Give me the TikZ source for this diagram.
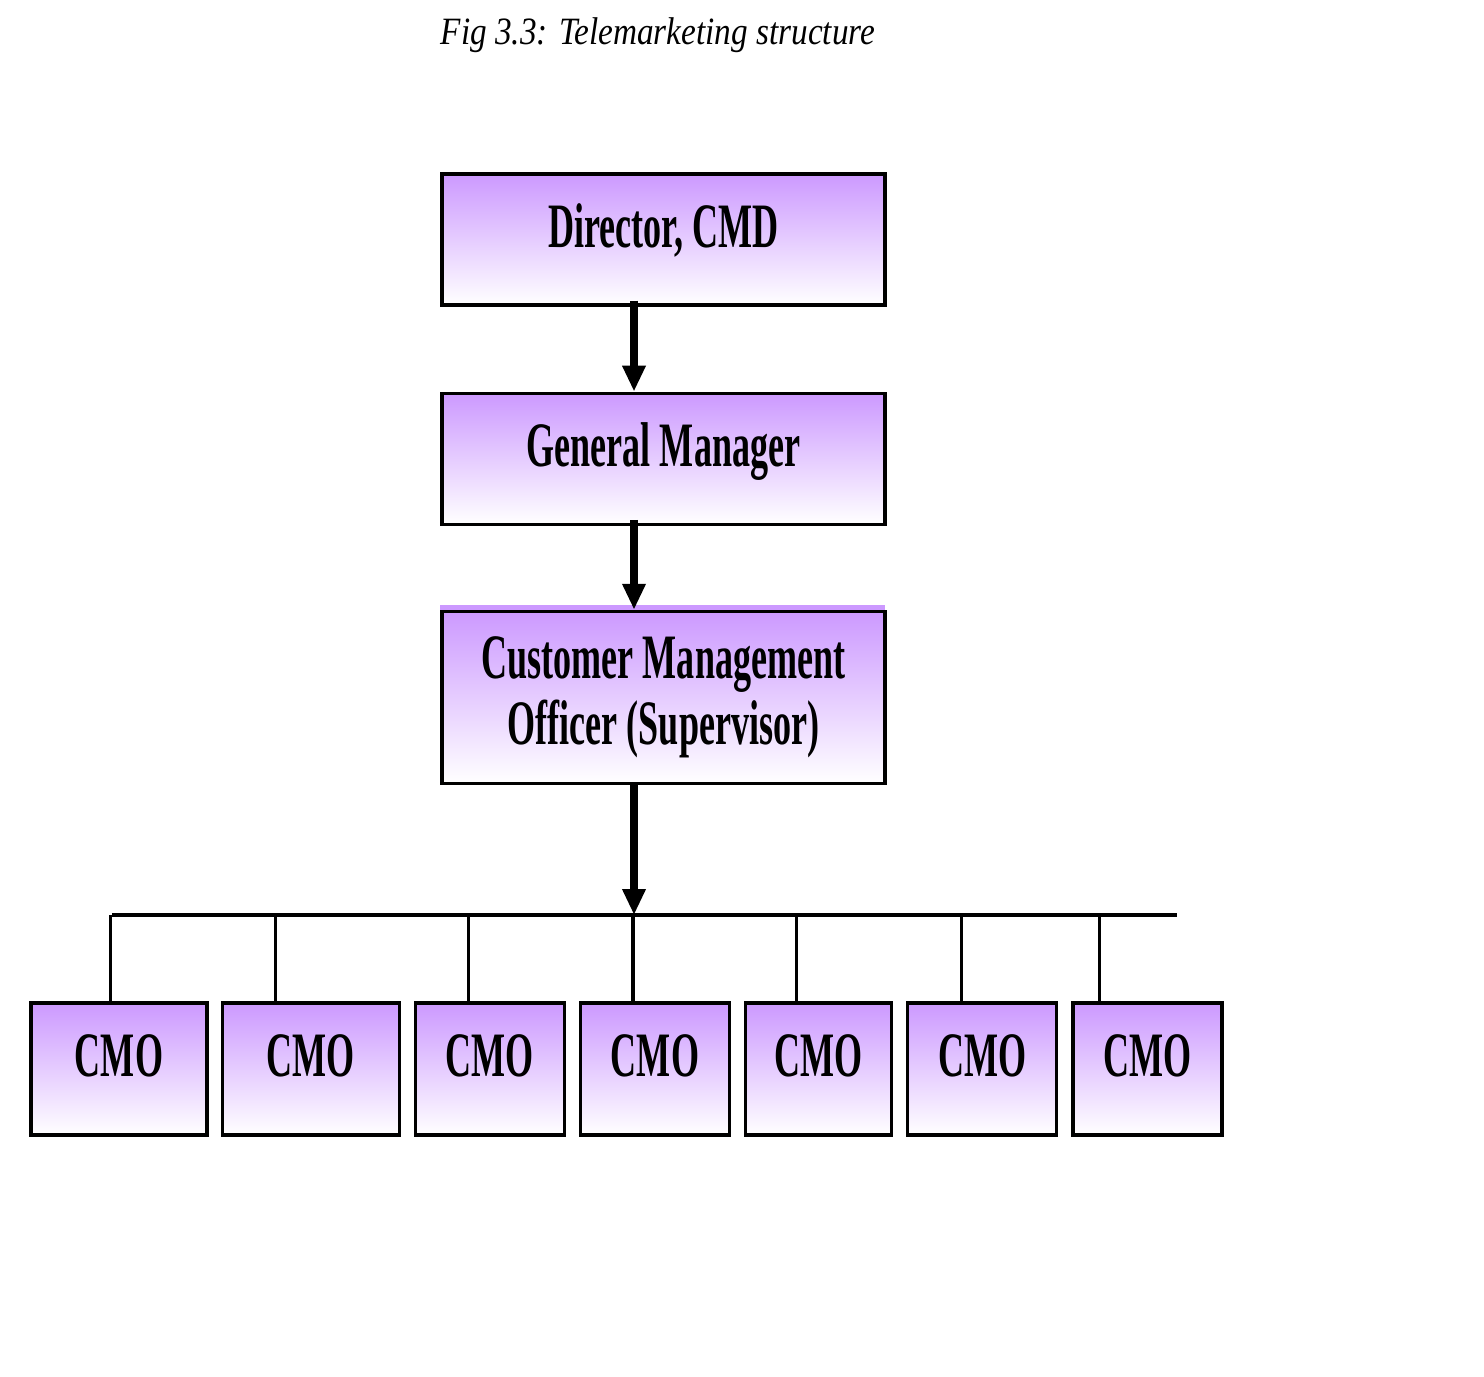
\documentclass[tikz,border=0pt]{standalone}
\usepackage{fontspec}
\setmainfont{Liberation Serif}
\newfontfamily\boxfont{Liberation Serif}[FakeStretch=0.57]
\newfontfamily\capfont{Liberation Serif}[FakeStretch=0.86]
\usetikzlibrary{arrows.meta,positioning}
\definecolor{lav}{RGB}{204,153,255}
\tikzset{>={Triangle[width=0.22cm,length=0.26cm]},
  post/.style={draw,line width=0.9pt,top color=lav,bottom color=white,
    font=\boxfont\bfseries\fontsize{18}{19}\selectfont,align=center,
    minimum width=4.43cm,minimum height=1.31cm,inner sep=0pt},
  lift/.style={text height=0.45cm,text depth=0.3cm},
  cmo/.style={post,lift,minimum width=1.49cm,minimum height=1.32cm},
  feed/.style={->,line width=2pt},
  link/.style={line width=0.9pt}}

\begin{document}
\begin{tikzpicture}
    \useasboundingbox (0,0) rectangle (14.84,-13.76);

    \node[font=\capfont\itshape\fontsize{11}{13}\selectfont] (title) at (6.58,-0.35) {Fig 3.3: Telemarketing structure};

    \node[post,lift] (dir) at (6.635,-2.395) {Director, CMD};
    \node[post,lift] (gm) [below=0.85cm of dir] {General Manager};
    \node[post,minimum height=1.72cm] (sup) [below=0.84cm of gm] {Customer Management\\Officer (Supervisor)};
    \fill[lav] (sup.north west) rectangle ([xshift=-0.02cm,yshift=0.05cm]sup.north east);

    \node[cmo,minimum width=1.76cm] (cmo1) at (1.19,-10.69) {CMO};
    \node[cmo,minimum width=1.77cm] (cmo2) [right=0.12cm of cmo1] {CMO};
    \node[cmo] (cmo3) [right=0.13cm of cmo2] {CMO};
    \node[cmo] (cmo4) [right=0.13cm of cmo3] {CMO};
    \node[cmo,minimum width=1.46cm] (cmo5) [right=0.13cm of cmo4] {CMO};
    \node[cmo] (cmo6) [right=0.13cm of cmo5] {CMO};
    \node[cmo] (cmo7) [right=0.13cm of cmo6] {CMO};

    \coordinate (busL) at (1.12,-9.15);
    \coordinate (busR) at (11.77,-9.15);
    \coordinate (d1) at ([xshift=-0.295cm]dir.south);
    \coordinate (d2) at ([xshift=-0.295cm]gm.south);
    \coordinate (d3) at ([xshift=-0.295cm]sup.south);

    \draw[feed] ([yshift=0.06cm]d1) -- (d1 |- gm.north);
    \draw[feed] ([yshift=0.06cm]d2) -- (d2 |- sup.north);
    \draw[feed] (d3) -- (d3 |- busL);
    \draw[link] (busL) -- (busR);
    \foreach \i/\dx in {1/0.81,2/0.55,3/0.55,4/0.54,5/0.52,6/0.55,7/0.28}{
      \coordinate (t\i) at ([xshift=\dx cm]cmo\i.north west);
      \draw[link] (t\i |- busL) -- (t\i);
    }
  \end{tikzpicture}
\end{document}
